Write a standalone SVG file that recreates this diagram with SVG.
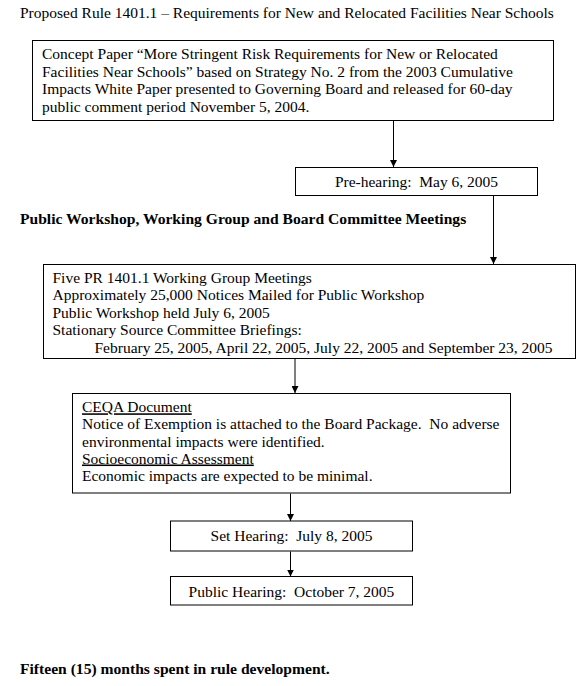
<svg xmlns="http://www.w3.org/2000/svg" width="588" height="686" viewBox="0 0 588 686">
<style>
text{font-family:"Liberation Serif","Times New Roman",serif;font-size:15.5px;fill:#000;white-space:pre}
.b{font-weight:bold;font-size:15.6px}
.c{text-anchor:middle}
.u{text-decoration:underline}
rect{fill:#fff;stroke:#000;stroke-width:1}
.con line{stroke:#000;stroke-width:1}
</style>
<defs>
<marker id="ah" markerUnits="userSpaceOnUse" markerWidth="7" markerHeight="7" refX="7" refY="3.5" orient="auto">
<path d="M0,0 L7,3.5 L0,7 z" fill="#000"/>
</marker>
</defs>
<rect x="0" y="0" width="588" height="686" style="stroke:none"/>
<g id="title">
<text x="20" y="17.5">Proposed Rule 1401.1 – Requirements for New and Relocated Facilities Near Schools</text>
</g>
<g id="concept">
<rect x="32.5" y="40.5" width="521" height="80"/>
<text x="42" y="59">Concept Paper “More Stringent Risk Requirements for New or Relocated</text>
<text x="42" y="76.5">Facilities Near Schools” based on Strategy No. 2 from the 2003 Cumulative</text>
<text x="42" y="94">Impacts White Paper presented to Governing Board and released for 60-day</text>
<text x="42" y="111.5">public comment period November 5, 2004.</text>
</g>
<g id="prehearing">
<rect x="295.5" y="167.5" width="242" height="28"/>
<text class="c" x="416.5" y="186.5" xml:space="preserve">Pre-hearing:  May 6, 2005</text>
</g>
<g id="section">
<text class="b" x="20" y="224">Public Workshop, Working Group and Board Committee Meetings</text>
</g>
<g id="workshop">
<rect x="43.5" y="264.5" width="532" height="94"/>
<text x="52.5" y="282.5">Five PR 1401.1 Working Group Meetings</text>
<text x="52.5" y="300">Approximately 25,000 Notices Mailed for Public Workshop</text>
<text x="52.5" y="317.5">Public Workshop held July 6, 2005</text>
<text x="52.5" y="335">Stationary Source Committee Briefings:</text>
<text x="94.5" y="352.5">February 25, 2005, April 22, 2005, July 22, 2005 and September 23, 2005</text>
</g>
<g id="ceqa">
<rect x="72.5" y="393.5" width="438" height="99.5"/>
<text class="u" x="82" y="412.3">CEQA Document</text>
<text x="82" y="429.3" xml:space="preserve">Notice of Exemption is attached to the Board Package.  No adverse</text>
<text x="82" y="446.5">environmental impacts were identified.</text>
<text class="u" x="82" y="463.5">Socioeconomic Assessment</text>
<text x="82" y="481">Economic impacts are expected to be minimal.</text>
</g>
<g id="sethearing">
<rect x="170.5" y="521" width="242" height="30"/>
<text class="c" x="291.5" y="541" xml:space="preserve">Set Hearing:  July 8, 2005</text>
</g>
<g id="publichearing">
<rect x="170.5" y="576.5" width="242" height="28.5"/>
<text class="c" x="291.5" y="596.5" xml:space="preserve">Public Hearing:  October 7, 2005</text>
</g>
<g id="footer">
<text class="b" x="20" y="674">Fifteen (15) months spent in rule development.</text>
</g>
<g class="con" id="connectors">
<line x1="393.5" y1="121" x2="393.5" y2="167" marker-end="url(#ah)"/>
<line x1="493.5" y1="196" x2="493.5" y2="264" marker-end="url(#ah)"/>
<line x1="295" y1="359" x2="295" y2="393" marker-end="url(#ah)"/>
<line x1="290.5" y1="493.5" x2="290.5" y2="521" marker-end="url(#ah)"/>
<line x1="290.5" y1="551.5" x2="290.5" y2="576.5" marker-end="url(#ah)"/>
</g>
</svg>
